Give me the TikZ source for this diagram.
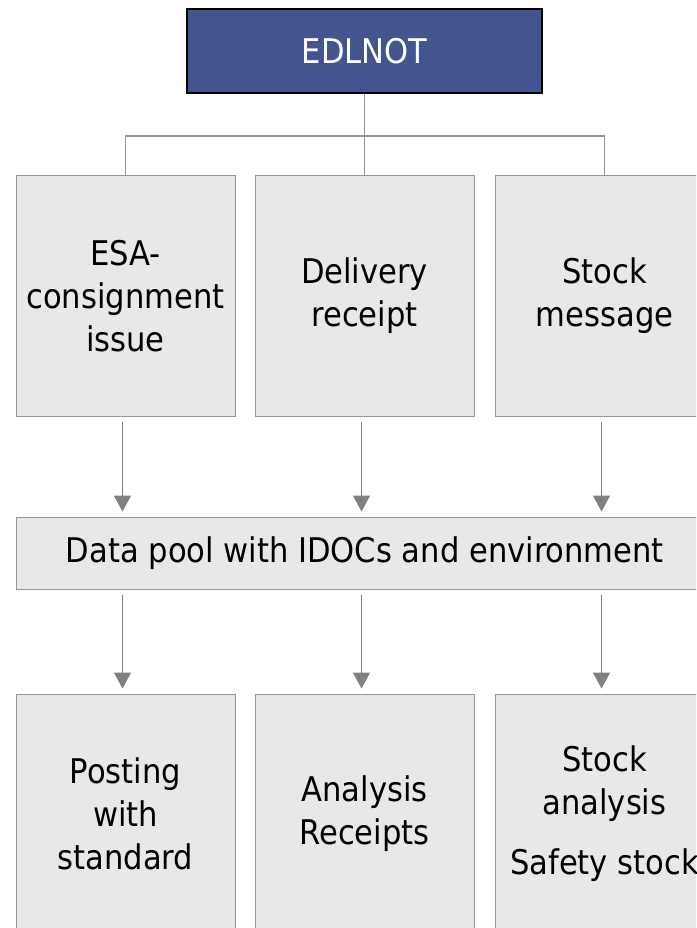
\documentclass[tikz,border=0pt]{standalone}
\usepackage{fontspec}
\setmainfont{DejaVu Sans Condensed}
\usetikzlibrary{arrows.meta}
\definecolor{headblue}{RGB}{68,84,142}
\definecolor{boxgray}{RGB}{232,232,232}
\definecolor{linegray}{RGB}{150,150,150}
\definecolor{arrowgray}{RGB}{128,128,128}
\begin{document}
\begin{tikzpicture}[x=1pt,y=-1pt,
	head/.style={draw=black,line width=1.5pt,fill=headblue,text=white,minimum width=355pt,minimum height=84pt,inner sep=0pt,font=\fontsize{34}{43}\selectfont},
	block/.style={draw=linegray,line width=1pt,fill=boxgray,minimum width=219pt,minimum height=240pt,inner sep=0pt,align=center,font=\fontsize{34}{43}\selectfont},
	pool/.style={draw=linegray,line width=1pt,fill=boxgray,minimum width=698pt,minimum height=72pt,inner sep=0pt,font=\fontsize{34}{43}\selectfont},
	link/.style={draw=linegray,line width=1.2pt},
	arr/.style={draw=arrowgray,line width=1.3pt,-{Triangle[width=17pt,length=16pt]},shorten <=5pt,shorten >=5pt}]
			\clip (0,0) rectangle (696,928);
			\fill[white] (0,0) rectangle (696,928);
			% top
			\node[head] (edlnot) at (364.5,51) {EDLNOT};
			% first row
			\node[block] (esa) at (125.5,296) {ESA-\\consignment\\issue};
			\node[block] (deliv) at (364.5,296) {Delivery\\receipt};
			\node[block] (stockmsg) at (604.5,296) {Stock\\message};
			% data pool
			\node[pool] (datapool) at (365,553) {Data pool with IDOCs and environment};
			% second row
			\node[block] (posting) at (125.5,814) {Posting\\with\\standard};
			\node[block] (anarec) at (364.5,814) {Analysis\\Receipts};
			\node[block] (stockana) at (604.5,814) {Stock\\analysis\\[17pt]Safety stock\hspace{6pt}};
			% tree lines
			\coordinate (bus) at (364.5,136);
			\draw[link] (edlnot.south) -- (deliv.north);
			\draw[link] (esa.north) |- (bus) -| (stockmsg.north);
			% arrows
			\foreach \up/\down in {esa/posting,deliv/anarec,stockmsg/stockana}{
				\draw[arr] ([xshift=-3pt]\up.south) -- ([xshift=-3pt]\up.south |- datapool.north);
				\draw[arr] ([xshift=-3pt]\up.south |- datapool.south) -- ([xshift=-3pt]\down.north);
			}
\end{tikzpicture}
\end{document}
